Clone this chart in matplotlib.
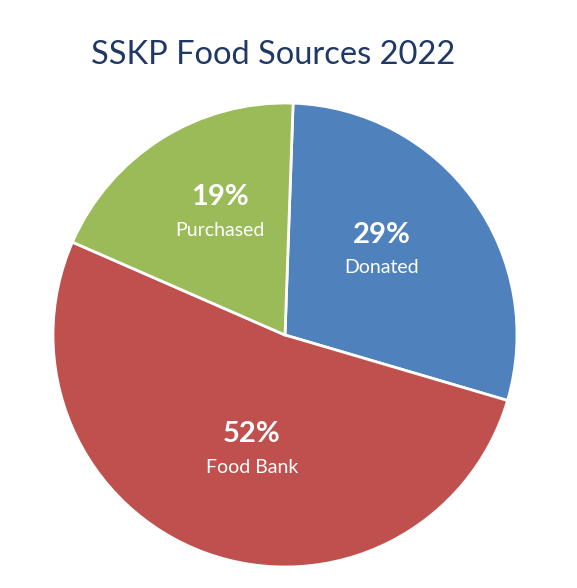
import numpy as np
import matplotlib.pyplot as plt

labels = ["Donated", "Food Bank", "Purchased"]
shares = [29, 52, 19]
colors = ["#4F81BD", "#C0504D", "#9BBB59"]

plt.rcParams['font.family'] = ['Lato', 'DejaVu Sans']

fig = plt.figure(figsize=(5.77, 5.88), dpi=100)
# pie: centre (285, 335) px, radius ~232 px
R = 232
ax = fig.add_axes([(285 - R) / 577, 1 - (335 + R) / 588, 2 * R / 577, 2 * R / 588])
wedges, _ = ax.pie(shares, colors=colors, startangle=88, counterclock=False,
                   wedgeprops=dict(edgecolor="white", linewidth=2))
ax.set_xlim(-1, 1)
ax.set_ylim(-1, 1)
ax.set_aspect("equal")

# label placement: fraction of radius and small angle nudge from wedge middle
label_r = [0.55, 0.52, 0.59]
label_dang = [5, 4, -4]
for w, lab, val, r, da in zip(wedges, labels, shares, label_r, label_dang):
    ang = np.deg2rad((w.theta1 + w.theta2) / 2 + da)
    x, y = r * np.cos(ang), r * np.sin(ang)
    ax.text(x, y + 0.073, f"{val}%", ha="center", va="center", color="white",
            fontsize=21, fontweight="bold")
    ax.text(x, y - 0.07, lab, ha="center", va="center", color="white", fontsize=14)

fig.text(273 / 577, 1 - 55 / 588, "SSKP Food Sources 2022", ha="center", va="center",
         fontsize=23.5, color="#1F3864")

fig.savefig("out.png", dpi=100)
